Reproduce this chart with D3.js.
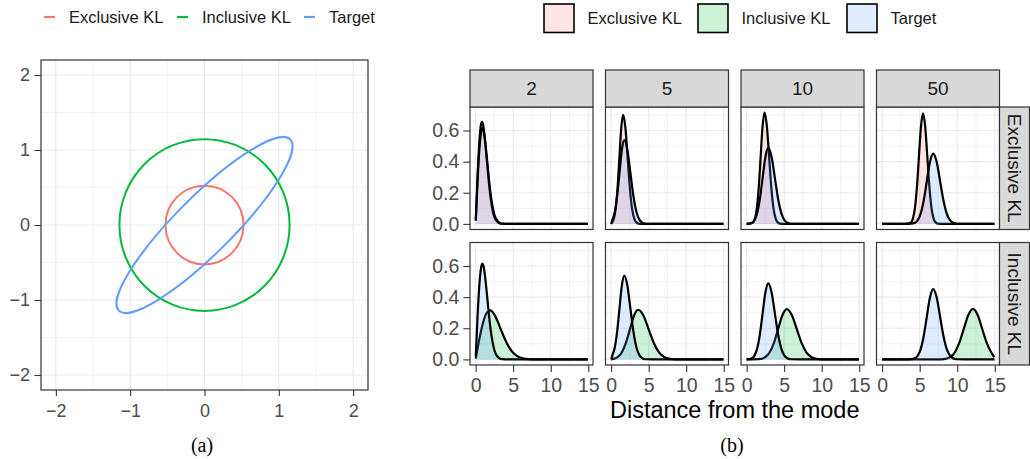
<!DOCTYPE html>
<html>
<head>
<meta charset="utf-8">
<script src="https://cdn.jsdelivr.net/npm/d3@7"></script>
<style>
  body { margin: 0; background: #fff; }
  svg { display: block; font-family: "Liberation Sans", Arial, sans-serif; }
</style>
</head>
<body>
<svg id="fig" width="1030" height="459"></svg>
<script>
// ---- panel (a): contours of target and the two fitted gaussians
const contourNames = ['Exclusive KL', 'Inclusive KL', 'Target']
const contourColors = ['#F8766D', '#00BA38', '#619CFF']
const contourRx = [0.525, 1.145, 1.63]
const contourRy = [0.525, 1.145, 0.38]
const contourAngle = [0, 0, 45]
const ticksA = [-2, -1, 0, 1, 2]
const minorA = [-1.5, -0.5, 0.5, 1.5]

// ---- panel (b): densities of the distance from the mode, [x, density]
const dims = ['2', '5', '10', '50']
const rowNames = ['Exclusive KL', 'Inclusive KL']
const ticksBx = [0, 5, 10, 15]
const minorBx = [2.5, 7.5, 12.5]
const ticksBy = [0, 0.2, 0.4, 0.6]
const minorBy = [0.1, 0.3, 0.5, 0.7]

const target2 = [[0.02,0.02],[0.25,0.27],[0.5,0.48],[0.75,0.595],[0.9,0.615],[1.05,0.6],[1.25,0.537],[1.5,0.421],[1.75,0.298],[2.0,0.191],[2.5,0.059],[3.0,0.013],[3.5,0.002],[4.5,0],[14.95,0]]
const target5 = [[0,0],[0.15,0.024],[0.47,0.073],[0.79,0.175],[1.11,0.326],[1.43,0.475],[1.75,0.538],[2.16,0.475],[2.57,0.326],[2.98,0.175],[3.39,0.073],[3.8,0.024],[4.21,0.006],[4.62,0.001],[5.5,0],[14.95,0]]
const target10 = [[0,0],[0.63,0.005],[1.005,0.021],[1.38,0.066],[1.755,0.158],[2.13,0.296],[2.505,0.431],[2.88,0.488],[3.32,0.431],[3.76,0.296],[4.2,0.158],[4.64,0.066],[5.08,0.021],[5.52,0.005],[5.96,0.001],[7,0],[14.95,0]]
const target50 = [[0,0],[3.5,0],[4.25,0.005],[4.675,0.02],[5.1,0.061],[5.525,0.147],[5.95,0.274],[6.375,0.399],[6.8,0.452],[7.26,0.399],[7.72,0.274],[8.18,0.147],[8.64,0.061],[9.1,0.02],[9.56,0.005],[10.02,0.001],[11,0],[14.95,0]]

const exclusive2 = [[0.02,0.03],[0.25,0.3],[0.5,0.53],[0.7,0.635],[0.85,0.655],[1.0,0.635],[1.25,0.54],[1.5,0.405],[1.75,0.27],[2.0,0.163],[2.5,0.043],[3.0,0.008],[3.5,0.001],[4.5,0],[14.95,0]]
const exclusive5 = [[0,0],[0.1,0.008],[0.35,0.031],[0.6,0.095],[0.85,0.227],[1.1,0.425],[1.35,0.618],[1.6,0.7],[1.9,0.618],[2.2,0.425],[2.5,0.227],[2.8,0.095],[3.1,0.031],[3.4,0.008],[3.7,0.0015],[4.5,0],[14.95,0]]
const exclusive10 = [[0,0],[0.83,0.008],[1.09,0.031],[1.35,0.097],[1.61,0.232],[1.87,0.434],[2.13,0.631],[2.39,0.715],[2.69,0.631],[2.99,0.434],[3.29,0.232],[3.59,0.097],[3.89,0.031],[4.19,0.008],[4.49,0.0016],[5.5,0],[14.95,0]]
const exclusive50 = [[0,0],[3.0,0],[3.8,0.008],[4.075,0.031],[4.35,0.096],[4.625,0.231],[4.9,0.431],[5.175,0.627],[5.45,0.71],[5.735,0.627],[6.02,0.431],[6.305,0.231],[6.59,0.096],[6.875,0.031],[7.16,0.008],[7.445,0.0016],[8.5,0],[14.95,0]]

const inclusive2 = [[0.02,0.005],[0.5,0.132],[1.0,0.238],[1.5,0.3],[1.95,0.315],[2.5,0.288],[3.0,0.236],[3.5,0.176],[4.0,0.12],[4.5,0.074],[5.0,0.043],[5.5,0.023],[6.0,0.011],[7.0,0.002],[8.0,0],[14.95,0]]
const inclusive5 = [[0,0],[0.3,0.0035],[0.85,0.014],[1.4,0.043],[1.95,0.104],[2.5,0.193],[3.05,0.282],[3.6,0.319],[4.3,0.282],[5.0,0.193],[5.7,0.104],[6.4,0.043],[7.1,0.014],[7.8,0.0035],[8.5,0.0007],[9.5,0],[14.95,0]]
const inclusive10 = [[0,0],[1.9,0.0036],[2.475,0.014],[3.05,0.044],[3.625,0.105],[4.2,0.196],[4.775,0.285],[5.35,0.323],[6.01,0.285],[6.67,0.196],[7.33,0.105],[7.99,0.044],[8.65,0.014],[9.31,0.0036],[9.97,0.0007],[11,0],[14.95,0]]
const inclusive50 = [[0,0],[7.5,0],[8.44,0.0036],[9.05,0.014],[9.66,0.044],[10.27,0.106],[10.88,0.197],[11.49,0.287],[12.1,0.325],[12.71,0.287],[13.32,0.197],[13.93,0.106],[14.54,0.044],[14.95,0.015]]

const densities = {
  'Exclusive KL': [exclusive2, exclusive5, exclusive10, exclusive50],
  'Inclusive KL': [inclusive2, inclusive5, inclusive10, inclusive50],
  'Target': [target2, target5, target10, target50]
}
const fillColor = d3.scaleOrdinal().domain(contourNames).range(contourColors)

const svg = d3.select('#fig')
const gridCol = '#ebebeb'
const borderCol = '#333333'
const tickTextCol = '#4d4d4d'

const styleAxis = (g, size) => {
  g.select('.domain').remove()
  g.selectAll('.tick line').attr('stroke', borderCol).attr('stroke-width', 1.1)
  g.selectAll('.tick text').attr('fill', tickTextCol).attr('font-size', size)
    .attr('font-family', '"Liberation Sans", Arial, sans-serif')
}

// =================== (a) ===================
const xA = d3.scaleLinear().domain([-2.2, 2.2]).range([41, 368])
const yA = d3.scaleLinear().domain([-2.2, 2.2]).range([390, 60])
const gA = svg.append('g')

gA.append('rect').attr('x', xA.range()[0]).attr('y', yA.range()[1])
  .attr('width', xA.range()[1] - xA.range()[0]).attr('height', yA.range()[0] - yA.range()[1])
  .attr('fill', '#fff')

gA.selectAll('.vminor').data(minorA).enter().append('line')
  .attr('x1', d => xA(d)).attr('x2', d => xA(d))
  .attr('y1', yA.range()[0]).attr('y2', yA.range()[1])
  .attr('stroke', gridCol).attr('stroke-width', 0.6)
gA.selectAll('.hminor').data(minorA).enter().append('line')
  .attr('y1', d => yA(d)).attr('y2', d => yA(d))
  .attr('x1', xA.range()[0]).attr('x2', xA.range()[1])
  .attr('stroke', gridCol).attr('stroke-width', 0.6)
gA.selectAll('.vmajor').data(ticksA).enter().append('line')
  .attr('x1', d => xA(d)).attr('x2', d => xA(d))
  .attr('y1', yA.range()[0]).attr('y2', yA.range()[1])
  .attr('stroke', gridCol).attr('stroke-width', 1.2)
gA.selectAll('.hmajor').data(ticksA).enter().append('line')
  .attr('y1', d => yA(d)).attr('y2', d => yA(d))
  .attr('x1', xA.range()[0]).attr('x2', xA.range()[1])
  .attr('stroke', gridCol).attr('stroke-width', 1.2)

gA.selectAll('.contour').data(contourNames).enter().append('ellipse')
  .attr('cx', xA(0)).attr('cy', yA(0))
  .attr('rx', (d, i) => xA(contourRx[i]) - xA(0))
  .attr('ry', (d, i) => yA(0) - yA(contourRy[i]))
  .attr('transform', (d, i) => `rotate(${-contourAngle[i]},${xA(0)},${yA(0)})`)
  .attr('fill', 'none')
  .attr('stroke', d => fillColor(d))
  .attr('stroke-width', 2)

gA.append('rect').attr('x', xA.range()[0]).attr('y', yA.range()[1])
  .attr('width', xA.range()[1] - xA.range()[0]).attr('height', yA.range()[0] - yA.range()[1])
  .attr('fill', 'none').attr('stroke', borderCol).attr('stroke-width', 1.2)

const axAx = gA.append('g').attr('transform', `translate(0,${yA.range()[0]})`)
  .call(d3.axisBottom(xA).tickValues(ticksA).tickFormat(d3.format('d')).tickSize(6).tickPadding(8))
styleAxis(axAx, 18)
const axAy = gA.append('g').attr('transform', `translate(${xA.range()[0]},0)`)
  .call(d3.axisLeft(yA).tickValues(ticksA).tickFormat(d3.format('d')).tickSize(6.5).tickPadding(4.5))
styleAxis(axAy, 18)

// legend (a)
const legA = gA.selectAll('.legA').data(contourNames).enter().append('g')
  .attr('transform', (d, i) => `translate(${[44, 177, 304][i]},17)`)
legA.append('line').attr('x1', 0).attr('x2', 11).attr('y1', 0).attr('y2', 0)
  .attr('stroke', d => fillColor(d)).attr('stroke-width', 2.2)
legA.append('text').attr('x', 25).attr('dy', '0.36em')
  .attr('font-size', 16.5).attr('fill', '#1a1a1a').text(d => d)

svg.append('text').attr('x', 202).attr('y', 452).attr('text-anchor', 'middle')
  .attr('font-family', '"Liberation Serif", "Times New Roman", serif')
  .attr('font-size', 20).attr('fill', '#000').text('(a)')

// =================== (b) ===================
const colX = [470, 605.5, 741, 876.5]
const rowY = [107, 242.5]
const pw = 123, ph = 122.5
const stripH = 37, stripW = 30

const xB = d3.scaleLinear().domain([-0.75, 15.63]).range([0, pw])
const yB = d3.scaleLinear().domain([-0.036, 0.751]).range([ph, 0])

const area = d3.area().curve(d3.curveMonotoneX)
  .x(d => xB(d[0])).y0(yB(0)).y1(d => yB(d[1]))
const line = d3.line().curve(d3.curveMonotoneX)
  .x(d => xB(d[0])).y(d => yB(d[1]))

rowNames.forEach((rowName, r) => {
  dims.forEach((dim, c) => {
    const g = svg.append('g').attr('transform', `translate(${colX[c]},${rowY[r]})`)
    g.append('rect').attr('width', pw).attr('height', ph).attr('fill', '#fff')

    g.selectAll('.vminor').data(minorBx).enter().append('line')
      .attr('x1', d => xB(d)).attr('x2', d => xB(d)).attr('y1', 0).attr('y2', ph)
      .attr('stroke', gridCol).attr('stroke-width', 0.6)
    g.selectAll('.hminor').data(minorBy).enter().append('line')
      .attr('y1', d => yB(d)).attr('y2', d => yB(d)).attr('x1', 0).attr('x2', pw)
      .attr('stroke', gridCol).attr('stroke-width', 0.6)
    g.selectAll('.vmajor').data(ticksBx).enter().append('line')
      .attr('x1', d => xB(d)).attr('x2', d => xB(d)).attr('y1', 0).attr('y2', ph)
      .attr('stroke', gridCol).attr('stroke-width', 1.2)
    g.selectAll('.hmajor').data(ticksBy).enter().append('line')
      .attr('y1', d => yB(d)).attr('y2', d => yB(d)).attr('x1', 0).attr('x2', pw)
      .attr('stroke', gridCol).attr('stroke-width', 1.2)

    const series = [rowName, 'Target']
    series.forEach(s => {
      const pts = densities[s][c]
      g.append('path').datum(pts).attr('d', area)
        .attr('fill', fillColor(s)).attr('fill-opacity', 0.2)
      g.append('path').datum(pts).attr('d', line)
        .attr('fill', 'none').attr('stroke', '#000').attr('stroke-width', 2.2)
        .attr('stroke-linejoin', 'round')
    })

    g.append('rect').attr('width', pw).attr('height', ph)
      .attr('fill', 'none').attr('stroke', borderCol).attr('stroke-width', 1.2)

    if (r === 0) {
      const strip = g.append('g').attr('transform', `translate(0,${-stripH})`)
      strip.append('rect').attr('width', pw).attr('height', stripH)
        .attr('fill', '#d9d9d9').attr('stroke', borderCol).attr('stroke-width', 1.2)
      strip.append('text').attr('x', pw / 2).attr('y', stripH / 2).attr('dy', '0.36em')
        .attr('text-anchor', 'middle').attr('font-size', 19).attr('fill', '#1a1a1a').text(dim)
    }
    if (c === dims.length - 1) {
      const strip = g.append('g').attr('transform', `translate(${pw},0)`)
      strip.append('rect').attr('width', stripW).attr('height', ph)
        .attr('fill', '#d9d9d9').attr('stroke', borderCol).attr('stroke-width', 1.2)
      strip.append('text')
        .attr('transform', `translate(${stripW / 2},${ph / 2}) rotate(90)`)
        .attr('dy', '0.36em').attr('text-anchor', 'middle')
        .attr('font-size', 19).attr('fill', '#1a1a1a').text(rowName)
    }
    if (c === 0) {
      const ay = g.append('g')
        .call(d3.axisLeft(yB).tickValues(ticksBy).tickFormat(d3.format('.1f')).tickSize(6.7).tickPadding(4))
      styleAxis(ay, 19.5)
    }
    if (r === rowNames.length - 1) {
      const ax = g.append('g').attr('transform', `translate(0,${ph})`)
        .call(d3.axisBottom(xB).tickValues(ticksBx).tickSize(7).tickPadding(6))
      styleAxis(ax, 19.5)
    }
  })
})

svg.append('text').attr('x', (colX[0] + colX[3] + pw) / 2).attr('y', 418)
  .attr('text-anchor', 'middle').attr('font-size', 23.5).attr('fill', '#000')
  .text('Distance from the mode')

// legend (b)
const legB = svg.selectAll('.legB').data(contourNames).enter().append('g')
  .attr('transform', (d, i) => `translate(${[544, 698, 847][i]},4)`)
legB.append('rect').attr('width', 30).attr('height', 28.5)
  .attr('fill', d => d3.interpolateRgb('#ffffff', fillColor(d))(0.2))
  .attr('stroke', '#000').attr('stroke-width', 1.6)
legB.append('text').attr('x', 43.5).attr('y', 14.5).attr('dy', '0.36em')
  .attr('font-size', 16.5).attr('fill', '#1a1a1a').text(d => d)

svg.append('text').attr('x', 732).attr('y', 452).attr('text-anchor', 'middle')
  .attr('font-family', '"Liberation Serif", "Times New Roman", serif')
  .attr('font-size', 20).attr('fill', '#000').text('(b)')
</script>
</body>
</html>
